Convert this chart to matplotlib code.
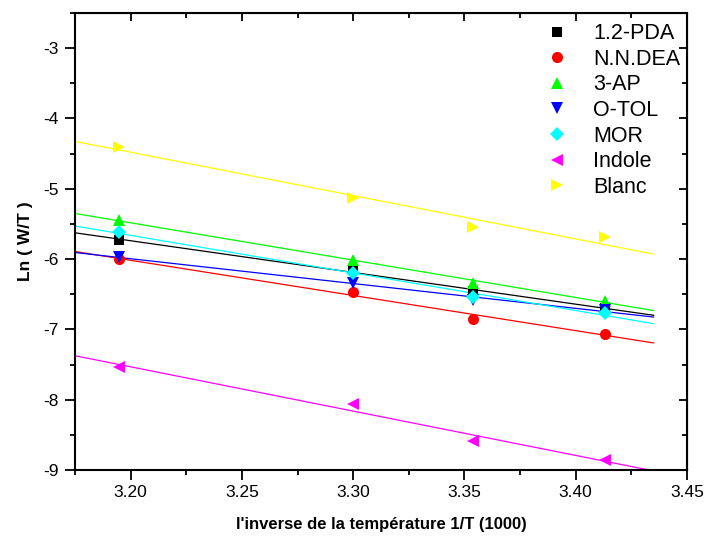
import numpy as np
import matplotlib
matplotlib.use("Agg")
import matplotlib.pyplot as plt
from matplotlib.ticker import MultipleLocator

plt.rcParams['font.family'] = ['Liberation Sans', 'DejaVu Sans']
plt.rcParams['axes.unicode_minus'] = False

# 1/T (x1000) for the four temperatures
inv_T = [3.195, 3.300, 3.354, 3.413]

labels = ["1.2-PDA", "N.N.DEA", "3-AP", "O-TOL", "MOR", "Indole", "Blanc"]
pda    = [-5.73, -6.15, -6.46, -6.70]
nndea  = [-6.00, -6.47, -6.85, -7.06]
ap3    = [-5.45, -6.01, -6.34, -6.59]
otol   = [-5.97, -6.34, -6.58, -6.72]
mor    = [-5.62, -6.20, -6.54, -6.76]
indole = [-7.53, -8.06, -8.59, -8.86]
blanc  = [-4.40, -5.13, -5.55, -5.69]

series = [pda, nndea, ap3, otol, mor, indole, blanc]
colors = ["black", "red", "#00ff00", "blue", "cyan", "magenta", "yellow"]
markers = ["s", "o", "^", "v", "D", "<", ">"]
msizes = [7, 8, 9, 9, 7, 9, 9]

fig = plt.figure(figsize=(7.06, 5.42), dpi=100)
ax = fig.add_axes([0.1062, 0.1328, 0.8669, 0.8432])

fit_x = np.linspace(3.175, 3.435, 50)
for y, lab, c, m, ms in zip(series, labels, colors, markers, msizes):
    ax.plot(inv_T, y, linestyle="none", marker=m, color=c, markersize=ms,
            markeredgewidth=0, label=lab, zorder=3)
    slope, icpt = np.polyfit(inv_T, y, 1)
    ax.plot(fit_x, slope * fit_x + icpt, color=c, linewidth=0.9, zorder=2)

ax.set_xlim(3.175, 3.45)
ax.set_ylim(-9, -2.5)
ax.xaxis.set_major_locator(MultipleLocator(0.05))
ax.xaxis.set_minor_locator(MultipleLocator(0.025))
ax.yaxis.set_major_locator(MultipleLocator(1))
ax.yaxis.set_minor_locator(MultipleLocator(0.5))
ax.set_xticks([3.20, 3.25, 3.30, 3.35, 3.40, 3.45])
ax.set_xticklabels(["3.20", "3.25", "3.30", "3.35", "3.40", "3.45"])

for s in ax.spines.values():
    s.set_linewidth(1.5)

ax.tick_params(which="major", direction="out", length=7, width=1.3,
               labelsize=12.5, pad=4)
ax.tick_params(axis="y", which="major", pad=5)
ax.tick_params(which="minor", direction="out", length=3.6, width=1.3)

# inward ticks on the top and right edges
axt = ax.secondary_xaxis("top")
axt.xaxis.set_major_locator(MultipleLocator(0.05))
axt.xaxis.set_minor_locator(MultipleLocator(0.025))
axt.tick_params(which="major", direction="in", length=6, width=1.3, labeltop=False)
axt.tick_params(which="minor", direction="in", length=3.6, width=1.3)
axr = ax.secondary_yaxis("right")
axr.yaxis.set_major_locator(MultipleLocator(1))
axr.yaxis.set_minor_locator(MultipleLocator(0.5))
axr.tick_params(which="major", direction="in", length=6, width=1.3, labelright=False)
axr.tick_params(which="minor", direction="in", length=3.6, width=1.3)

ax.set_xlabel("l'inverse de la température 1/T (1000)", fontsize=12,
              fontweight="bold", labelpad=12)
ax.set_ylabel("Ln ( W/T )", fontsize=12.5, fontweight="bold", labelpad=7)

leg = ax.legend(loc="upper right", frameon=False, fontsize=15.5,
                handletextpad=1.2, labelspacing=0.21, borderaxespad=0.0,
                handlelength=1.0, bbox_to_anchor=(1.003, 0.996))

fig.savefig("out.png", dpi=100)
